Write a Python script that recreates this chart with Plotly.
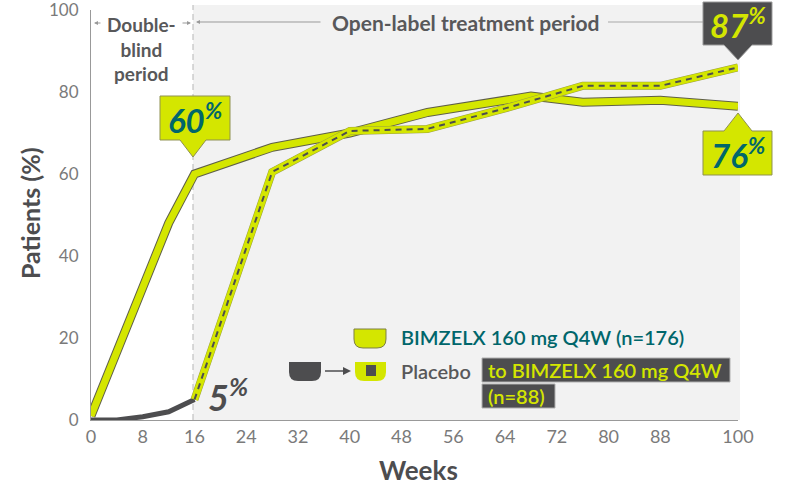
import plotly.graph_objects as go

# ---------------- data ----------------
weeks_bkz = [0, 4, 8, 12, 16, 28, 40, 52, 68, 76, 88, 100]
bkz_pct = [1, 17, 33, 48, 60, 66.5, 70, 75, 79, 77.5, 78, 76.5]

weeks_pbo_db = [0, 4, 8, 12, 16]
pbo_db_pct = [0, 0, 0.8, 2, 5]

weeks_pbo_ol = [16, 28, 40, 52, 64, 76, 88, 100]
pbo_ol_pct = [5, 60.5, 70.5, 71, 76, 81.5, 81.5, 86]

x_ticks = [0, 8, 16, 24, 32, 40, 48, 56, 64, 72, 80, 88, 100]
y_ticks = [0, 20, 40, 60, 80, 100]

callout_60 = "60"
callout_87 = "87"
callout_76 = "76"
callout_5 = "5"

# ---------------- style ----------------
YEL = "#d4e600"
DARK = "#4d4d4f"
TEAL = "#00666b"
BG = "#f2f2f2"
TXT = "#58585a"
FONT = "Lato"

W, H = 788, 487
L, R, T, B = 91, 738, 10, 420


def px(x):
    return (x - L) / (R - L)


def py(y):
    return (B - y) / (B - T)


def P(x, y):
    return f"{px(x):.5f},{py(y):.5f}"


fig = go.Figure()

# BIMZELX solid line (outline + yellow)
fig.add_trace(go.Scatter(x=weeks_bkz, y=bkz_pct, mode="lines",
                         line=dict(color="#5f5f48", width=9),
                         cliponaxis=False, hoverinfo="skip", showlegend=False))
fig.add_trace(go.Scatter(x=weeks_bkz, y=bkz_pct, mode="lines",
                         line=dict(color=YEL, width=7),
                         cliponaxis=False, hoverinfo="skip", showlegend=False))
# Placebo double-blind
fig.add_trace(go.Scatter(x=weeks_pbo_db, y=pbo_db_pct, mode="lines",
                         line=dict(color=DARK, width=5),
                         cliponaxis=False, hoverinfo="skip", showlegend=False))
# Placebo -> BIMZELX open label (yellow with dark dashes)
fig.add_trace(go.Scatter(x=weeks_pbo_ol, y=pbo_ol_pct, mode="lines",
                         line=dict(color="#9a9f40", width=8),
                         cliponaxis=False, hoverinfo="skip", showlegend=False))
fig.add_trace(go.Scatter(x=weeks_pbo_ol, y=pbo_ol_pct, mode="lines",
                         line=dict(color=YEL, width=7),
                         cliponaxis=False, hoverinfo="skip", showlegend=False))
fig.add_trace(go.Scatter(x=weeks_pbo_ol, y=pbo_ol_pct, mode="lines",
                         line=dict(color=DARK, width=2, dash="6px,5px"),
                         cliponaxis=False, hoverinfo="skip", showlegend=False))

shapes = []
# grey open-label background
shapes.append(dict(type="rect", xref="paper", yref="paper",
                   x0=px(193), x1=px(740), y0=0, y1=py(5),
                   fillcolor=BG, line=dict(width=0), layer="below"))
# dashed divider at week 16
shapes.append(dict(type="line", xref="paper", yref="paper",
                   x0=px(193), x1=px(193), y0=0, y1=py(5),
                   line=dict(color="#b5b5b5", width=1, dash="6px,4px"), layer="below"))
# header line right of "Open-label treatment period"
shapes.append(dict(type="line", xref="paper", yref="paper",
                   x0=px(608), x1=px(704), y0=py(22), y1=py(22),
                   line=dict(color="#a8a8a8", width=1)))


def box_down(x0, x1, y0, y1, tx, ty, hw):
    return ("M " + P(x0, y0) + " L " + P(x1, y0) + " L " + P(x1, y1) +
            " L " + P(tx + hw, y1) + " L " + P(tx, ty) + " L " + P(tx - hw, y1) +
            " L " + P(x0, y1) + " Z")


def box_up(x0, x1, y0, y1, tx, ty, hw):
    return ("M " + P(x0, y0) + " L " + P(tx - hw, y0) + " L " + P(tx, ty) +
            " L " + P(tx + hw, y0) + " L " + P(x1, y0) + " L " + P(x1, y1) +
            " L " + P(x0, y1) + " Z")


shapes.append(dict(type="path", xref="paper", yref="paper",
                   path=box_down(160, 230, 96, 140, 193, 157, 13),
                   fillcolor=YEL, line=dict(color="#8f9150", width=1)))
shapes.append(dict(type="path", xref="paper", yref="paper",
                   path=box_down(703, 772, 2, 45, 738, 60, 14),
                   fillcolor=DARK, line=dict(color="#9a9a9a", width=1)))
shapes.append(dict(type="path", xref="paper", yref="paper",
                   path=box_up(703, 772, 131, 175, 738, 113, 14),
                   fillcolor=YEL, line=dict(color="#8f9150", width=1)))


def cup(x0, x1, y0, y1, fill, line):
    r = 9
    ym = y1 - r
    path = ("M " + P(x0, y0) + " L " + P(x1, y0) + " L " + P(x1, ym) +
            " Q " + P(x1, y1) + " " + P(x1 - r, y1) + " L " + P(x0 + r, y1) +
            " Q " + P(x0, y1) + " " + P(x0, ym) + " Z")
    return dict(type="path", xref="paper", yref="paper", path=path,
                fillcolor=fill, line=line)


shapes.append(cup(354, 386, 329, 348, YEL, dict(color="#7d7f45", width=1)))
shapes.append(cup(289, 321, 362, 381, DARK, dict(width=0)))
shapes.append(cup(355, 386, 362, 381, YEL, dict(width=0)))
shapes.append(dict(type="rect", xref="paper", yref="paper",
                   x0=px(366), x1=px(376), y0=py(376), y1=py(365),
                   fillcolor=DARK, line=dict(width=0)))
shapes.append(dict(type="line", xref="paper", yref="paper",
                   x0=px(325), x1=px(344), y0=py(371), y1=py(371),
                   line=dict(color=DARK, width=1.5)))
shapes.append(dict(type="path", xref="paper", yref="paper",
                   path="M " + P(343, 367) + " L " + P(351, 371) + " L " + P(343, 375) + " Z",
                   fillcolor=DARK, line=dict(width=0)))
# dark label boxes in legend
shapes.append(dict(type="rect", xref="paper", yref="paper",
                   x0=px(482), x1=px(730), y0=py(382), y1=py(358),
                   fillcolor=DARK, line=dict(color="#b0b0b0", width=1)))
shapes.append(dict(type="rect", xref="paper", yref="paper",
                   x0=px(482), x1=px(555), y0=py(408), y1=py(384),
                   fillcolor=DARK, line=dict(color="#b0b0b0", width=1)))

ann = []


def text(x, y, s, size, color, weight="normal", xanchor="center", **kw):
    ann.append(dict(x=px(x), y=py(y), xref="paper", yref="paper", text=s,
                    showarrow=False, xanchor=xanchor, yanchor="middle",
                    font=dict(family=FONT, size=size, color=color, weight=weight), **kw))


def arrow(hx, hy, ax):
    ann.append(dict(x=px(hx), y=py(hy), xref="paper", yref="paper", text="",
                    showarrow=True, ax=ax, ay=0, arrowhead=2, arrowsize=0.8,
                    arrowwidth=1, arrowcolor="#999999"))


# header texts
text(141, 49, "Double-<br>blind<br>period", 19, TXT, "bold")
text(466, 22, "Open-label treatment period", 21, TXT, "bold")
arrow(94, 23, 8)
arrow(191, 23, -10)
arrow(196, 22, 126)

# callouts
text(195, 118, f"<b><i>{callout_60}<sup>%</sup></i></b>", 33, TEAL, "bold")
text(738, 23, f"<b><i>{callout_87}<sup>%</sup></i></b>", 33, YEL, "bold")
text(738, 153, f"<b><i>{callout_76}<sup>%</sup></i></b>", 33, TEAL, "bold")
text(228, 395, f"<b><i>{callout_5}<sup>%</sup></i></b>", 36, DARK, "bold")

# legend texts
text(399, 337, "BIMZELX 160 mg Q4W (n=176)", 20, TEAL, 600, xanchor="left")
text(399, 371, "Placebo", 20, TXT, 600, xanchor="left")
text(486, 370, "to BIMZELX 160 mg Q4W", 20, YEL, 600, xanchor="left")
text(486, 396, "(n=88)", 20, YEL, 600, xanchor="left")

# axis titles
text(418, 470, "Weeks", 26, DARK, "bold")
text(30, 213, "Patients (%)", 25, DARK, "bold", textangle=-90)

fig.update_layout(
    width=W, height=H,
    margin=dict(l=L, r=W - R, t=T, b=H - B, autoexpand=False),
    paper_bgcolor="white", plot_bgcolor="white",
    showlegend=False,
    shapes=shapes, annotations=ann,
    font=dict(family=FONT),
    xaxis=dict(range=[0, 100], tickvals=x_ticks, ticktext=[str(v) for v in x_ticks],
               showgrid=False, zeroline=False, showline=True, linecolor="#999999",
               linewidth=1, ticks="", tickfont=dict(family=FONT, size=18, color="#7a7a7a"),
               ticklabeloverflow="allow", automargin=False, fixedrange=True),
    yaxis=dict(range=[0, 100], tickvals=y_ticks, ticktext=[str(v) for v in y_ticks],
               showgrid=False, zeroline=False, showline=True, linecolor="#999999",
               linewidth=1, ticks="", tickfont=dict(family=FONT, size=17, color="#7a7a7a"),
               ticklabelstandoff=8, ticklabeloverflow="allow", automargin=False,
               fixedrange=True),
)

fig.write_html("out.html", config={"displayModeBar": False},
               post_script="document.body.style.margin='0px';document.body.style.overflow='hidden';")
